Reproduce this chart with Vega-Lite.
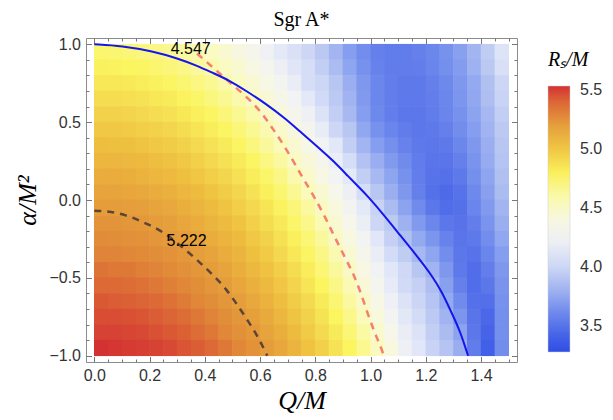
{
"$schema": "https://vega.github.io/schema/vega-lite/v6.json",
"width": 431,
"height": 324,
"autosize": "none",
"padding": {"left": 86, "top": 38, "right": 96, "bottom": 58},
"background": "white",
"title": {"text": "Sgr A*", "font": "Liberation Serif", "fontSize": 20, "fontWeight": "normal", "color": "#000", "offset": 6, "anchor": "middle"},
"config": {"view": {"stroke": "#8c8c8c", "strokeWidth": 1}},
"datasets": {
"grid": [
{"q":0.025,"a":0.95,"r":4.74},{"q":0.075,"a":0.95,"r":4.73},{"q":0.125,"a":0.95,"r":4.72},{"q":0.175,"a":0.95,"r":4.70},{"q":0.225,"a":0.95,"r":4.68},{"q":0.275,"a":0.95,"r":4.65},{"q":0.325,"a":0.95,"r":4.62},{"q":0.375,"a":0.95,"r":4.58},{"q":0.425,"a":0.95,"r":4.53},{"q":0.475,"a":0.95,"r":4.47},{"q":0.525,"a":0.95,"r":4.40},{"q":0.575,"a":0.95,"r":4.33},{"q":0.625,"a":0.95,"r":4.23},{"q":0.675,"a":0.95,"r":4.13},{"q":0.725,"a":0.95,"r":4.06},{"q":0.775,"a":0.95,"r":4.00},{"q":0.825,"a":0.95,"r":3.91},{"q":0.875,"a":0.95,"r":3.82},{"q":0.925,"a":0.95,"r":3.71},{"q":0.975,"a":0.95,"r":3.63},{"q":1.025,"a":0.95,"r":3.57},{"q":1.075,"a":0.95,"r":3.55},{"q":1.125,"a":0.95,"r":3.55},{"q":1.175,"a":0.95,"r":3.57},{"q":1.225,"a":0.95,"r":3.60},{"q":1.275,"a":0.95,"r":3.65},{"q":1.325,"a":0.95,"r":3.72},{"q":1.375,"a":0.95,"r":3.82},{"q":1.425,"a":0.95,"r":3.94},{"q":1.475,"a":0.95,"r":4.08},
{"q":0.025,"a":0.85,"r":4.79},{"q":0.075,"a":0.85,"r":4.78},{"q":0.125,"a":0.85,"r":4.77},{"q":0.175,"a":0.85,"r":4.76},{"q":0.225,"a":0.85,"r":4.74},{"q":0.275,"a":0.85,"r":4.71},{"q":0.325,"a":0.85,"r":4.68},{"q":0.375,"a":0.85,"r":4.63},{"q":0.425,"a":0.85,"r":4.59},{"q":0.475,"a":0.85,"r":4.53},{"q":0.525,"a":0.85,"r":4.47},{"q":0.575,"a":0.85,"r":4.39},{"q":0.625,"a":0.85,"r":4.31},{"q":0.675,"a":0.85,"r":4.21},{"q":0.725,"a":0.85,"r":4.09},{"q":0.775,"a":0.85,"r":4.04},{"q":0.825,"a":0.85,"r":3.95},{"q":0.875,"a":0.85,"r":3.85},{"q":0.925,"a":0.85,"r":3.74},{"q":0.975,"a":0.85,"r":3.65},{"q":1.025,"a":0.85,"r":3.58},{"q":1.075,"a":0.85,"r":3.55},{"q":1.125,"a":0.85,"r":3.55},{"q":1.175,"a":0.85,"r":3.56},{"q":1.225,"a":0.85,"r":3.59},{"q":1.275,"a":0.85,"r":3.64},{"q":1.325,"a":0.85,"r":3.70},{"q":1.375,"a":0.85,"r":3.80},{"q":1.425,"a":0.85,"r":3.91},{"q":1.475,"a":0.85,"r":4.05},
{"q":0.025,"a":0.75,"r":4.84},{"q":0.075,"a":0.75,"r":4.84},{"q":0.125,"a":0.75,"r":4.83},{"q":0.175,"a":0.75,"r":4.81},{"q":0.225,"a":0.75,"r":4.79},{"q":0.275,"a":0.75,"r":4.76},{"q":0.325,"a":0.75,"r":4.73},{"q":0.375,"a":0.75,"r":4.69},{"q":0.425,"a":0.75,"r":4.65},{"q":0.475,"a":0.75,"r":4.59},{"q":0.525,"a":0.75,"r":4.53},{"q":0.575,"a":0.75,"r":4.46},{"q":0.625,"a":0.75,"r":4.38},{"q":0.675,"a":0.75,"r":4.29},{"q":0.725,"a":0.75,"r":4.18},{"q":0.775,"a":0.75,"r":4.04},{"q":0.825,"a":0.75,"r":4.00},{"q":0.875,"a":0.75,"r":3.90},{"q":0.925,"a":0.75,"r":3.79},{"q":0.975,"a":0.75,"r":3.68},{"q":1.025,"a":0.75,"r":3.60},{"q":1.075,"a":0.75,"r":3.56},{"q":1.125,"a":0.75,"r":3.54},{"q":1.175,"a":0.75,"r":3.54},{"q":1.225,"a":0.75,"r":3.57},{"q":1.275,"a":0.75,"r":3.61},{"q":1.325,"a":0.75,"r":3.68},{"q":1.375,"a":0.75,"r":3.76},{"q":1.425,"a":0.75,"r":3.87},{"q":1.475,"a":0.75,"r":4.00},
{"q":0.025,"a":0.65,"r":4.89},{"q":0.075,"a":0.65,"r":4.89},{"q":0.125,"a":0.65,"r":4.88},{"q":0.175,"a":0.65,"r":4.86},{"q":0.225,"a":0.65,"r":4.84},{"q":0.275,"a":0.65,"r":4.82},{"q":0.325,"a":0.65,"r":4.78},{"q":0.375,"a":0.65,"r":4.75},{"q":0.425,"a":0.65,"r":4.70},{"q":0.475,"a":0.65,"r":4.65},{"q":0.525,"a":0.65,"r":4.59},{"q":0.575,"a":0.65,"r":4.53},{"q":0.625,"a":0.65,"r":4.45},{"q":0.675,"a":0.65,"r":4.36},{"q":0.725,"a":0.65,"r":4.26},{"q":0.775,"a":0.65,"r":4.13},{"q":0.825,"a":0.65,"r":4.02},{"q":0.875,"a":0.65,"r":3.92},{"q":0.925,"a":0.65,"r":3.81},{"q":0.975,"a":0.65,"r":3.69},{"q":1.025,"a":0.65,"r":3.60},{"q":1.075,"a":0.65,"r":3.56},{"q":1.125,"a":0.65,"r":3.54},{"q":1.175,"a":0.65,"r":3.54},{"q":1.225,"a":0.65,"r":3.56},{"q":1.275,"a":0.65,"r":3.60},{"q":1.325,"a":0.65,"r":3.67},{"q":1.375,"a":0.65,"r":3.75},{"q":1.425,"a":0.65,"r":3.86},{"q":1.475,"a":0.65,"r":3.98},
{"q":0.025,"a":0.55,"r":4.94},{"q":0.075,"a":0.55,"r":4.94},{"q":0.125,"a":0.55,"r":4.93},{"q":0.175,"a":0.55,"r":4.91},{"q":0.225,"a":0.55,"r":4.89},{"q":0.275,"a":0.55,"r":4.87},{"q":0.325,"a":0.55,"r":4.84},{"q":0.375,"a":0.55,"r":4.80},{"q":0.425,"a":0.55,"r":4.76},{"q":0.475,"a":0.55,"r":4.71},{"q":0.525,"a":0.55,"r":4.65},{"q":0.575,"a":0.55,"r":4.59},{"q":0.625,"a":0.55,"r":4.51},{"q":0.675,"a":0.55,"r":4.43},{"q":0.725,"a":0.55,"r":4.33},{"q":0.775,"a":0.55,"r":4.22},{"q":0.825,"a":0.55,"r":4.07},{"q":0.875,"a":0.55,"r":3.95},{"q":0.925,"a":0.55,"r":3.84},{"q":0.975,"a":0.55,"r":3.71},{"q":1.025,"a":0.55,"r":3.61},{"q":1.075,"a":0.55,"r":3.56},{"q":1.125,"a":0.55,"r":3.53},{"q":1.175,"a":0.55,"r":3.53},{"q":1.225,"a":0.55,"r":3.55},{"q":1.275,"a":0.55,"r":3.59},{"q":1.325,"a":0.55,"r":3.65},{"q":1.375,"a":0.55,"r":3.73},{"q":1.425,"a":0.55,"r":3.83},{"q":1.475,"a":0.55,"r":3.95},
{"q":0.025,"a":0.45,"r":4.99},{"q":0.075,"a":0.45,"r":4.99},{"q":0.125,"a":0.45,"r":4.98},{"q":0.175,"a":0.45,"r":4.96},{"q":0.225,"a":0.45,"r":4.94},{"q":0.275,"a":0.45,"r":4.92},{"q":0.325,"a":0.45,"r":4.89},{"q":0.375,"a":0.45,"r":4.85},{"q":0.425,"a":0.45,"r":4.81},{"q":0.475,"a":0.45,"r":4.76},{"q":0.525,"a":0.45,"r":4.71},{"q":0.575,"a":0.45,"r":4.65},{"q":0.625,"a":0.45,"r":4.58},{"q":0.675,"a":0.45,"r":4.49},{"q":0.725,"a":0.45,"r":4.40},{"q":0.775,"a":0.45,"r":4.30},{"q":0.825,"a":0.45,"r":4.17},{"q":0.875,"a":0.45,"r":4.00},{"q":0.925,"a":0.45,"r":3.90},{"q":0.975,"a":0.45,"r":3.75},{"q":1.025,"a":0.45,"r":3.65},{"q":1.075,"a":0.45,"r":3.59},{"q":1.125,"a":0.45,"r":3.55},{"q":1.175,"a":0.45,"r":3.53},{"q":1.225,"a":0.45,"r":3.54},{"q":1.275,"a":0.45,"r":3.57},{"q":1.325,"a":0.45,"r":3.63},{"q":1.375,"a":0.45,"r":3.71},{"q":1.425,"a":0.45,"r":3.81},{"q":1.475,"a":0.45,"r":3.92},
{"q":0.025,"a":0.35,"r":5.04},{"q":0.075,"a":0.35,"r":5.03},{"q":0.125,"a":0.35,"r":5.03},{"q":0.175,"a":0.35,"r":5.01},{"q":0.225,"a":0.35,"r":4.99},{"q":0.275,"a":0.35,"r":4.97},{"q":0.325,"a":0.35,"r":4.94},{"q":0.375,"a":0.35,"r":4.90},{"q":0.425,"a":0.35,"r":4.86},{"q":0.475,"a":0.35,"r":4.82},{"q":0.525,"a":0.35,"r":4.76},{"q":0.575,"a":0.35,"r":4.70},{"q":0.625,"a":0.35,"r":4.63},{"q":0.675,"a":0.35,"r":4.56},{"q":0.725,"a":0.35,"r":4.47},{"q":0.775,"a":0.35,"r":4.37},{"q":0.825,"a":0.35,"r":4.25},{"q":0.875,"a":0.35,"r":4.11},{"q":0.925,"a":0.35,"r":3.95},{"q":0.975,"a":0.35,"r":3.82},{"q":1.025,"a":0.35,"r":3.71},{"q":1.075,"a":0.35,"r":3.64},{"q":1.125,"a":0.35,"r":3.58},{"q":1.175,"a":0.35,"r":3.54},{"q":1.225,"a":0.35,"r":3.53},{"q":1.275,"a":0.35,"r":3.54},{"q":1.325,"a":0.35,"r":3.60},{"q":1.375,"a":0.35,"r":3.68},{"q":1.425,"a":0.35,"r":3.79},{"q":1.475,"a":0.35,"r":3.90},
{"q":0.025,"a":0.25,"r":5.08},{"q":0.075,"a":0.25,"r":5.08},{"q":0.125,"a":0.25,"r":5.07},{"q":0.175,"a":0.25,"r":5.06},{"q":0.225,"a":0.25,"r":5.04},{"q":0.275,"a":0.25,"r":5.02},{"q":0.325,"a":0.25,"r":4.99},{"q":0.375,"a":0.25,"r":4.95},{"q":0.425,"a":0.25,"r":4.91},{"q":0.475,"a":0.25,"r":4.87},{"q":0.525,"a":0.25,"r":4.82},{"q":0.575,"a":0.25,"r":4.76},{"q":0.625,"a":0.25,"r":4.69},{"q":0.675,"a":0.25,"r":4.62},{"q":0.725,"a":0.25,"r":4.53},{"q":0.775,"a":0.25,"r":4.44},{"q":0.825,"a":0.25,"r":4.33},{"q":0.875,"a":0.25,"r":4.19},{"q":0.925,"a":0.25,"r":4.04},{"q":0.975,"a":0.25,"r":3.88},{"q":1.025,"a":0.25,"r":3.78},{"q":1.075,"a":0.25,"r":3.69},{"q":1.125,"a":0.25,"r":3.62},{"q":1.175,"a":0.25,"r":3.55},{"q":1.225,"a":0.25,"r":3.52},{"q":1.275,"a":0.25,"r":3.52},{"q":1.325,"a":0.25,"r":3.57},{"q":1.375,"a":0.25,"r":3.66},{"q":1.425,"a":0.25,"r":3.77},{"q":1.475,"a":0.25,"r":3.89},
{"q":0.025,"a":0.15,"r":5.13},{"q":0.075,"a":0.15,"r":5.13},{"q":0.125,"a":0.15,"r":5.12},{"q":0.175,"a":0.15,"r":5.10},{"q":0.225,"a":0.15,"r":5.08},{"q":0.275,"a":0.15,"r":5.06},{"q":0.325,"a":0.15,"r":5.03},{"q":0.375,"a":0.15,"r":5.00},{"q":0.425,"a":0.15,"r":4.96},{"q":0.475,"a":0.15,"r":4.92},{"q":0.525,"a":0.15,"r":4.87},{"q":0.575,"a":0.15,"r":4.81},{"q":0.625,"a":0.15,"r":4.75},{"q":0.675,"a":0.15,"r":4.68},{"q":0.725,"a":0.15,"r":4.59},{"q":0.775,"a":0.15,"r":4.50},{"q":0.825,"a":0.15,"r":4.39},{"q":0.875,"a":0.15,"r":4.27},{"q":0.925,"a":0.15,"r":4.13},{"q":0.975,"a":0.15,"r":3.95},{"q":1.025,"a":0.15,"r":3.84},{"q":1.075,"a":0.15,"r":3.74},{"q":1.125,"a":0.15,"r":3.65},{"q":1.175,"a":0.15,"r":3.56},{"q":1.225,"a":0.15,"r":3.51},{"q":1.275,"a":0.15,"r":3.50},{"q":1.325,"a":0.15,"r":3.54},{"q":1.375,"a":0.15,"r":3.64},{"q":1.425,"a":0.15,"r":3.74},{"q":1.475,"a":0.15,"r":3.87},
{"q":0.025,"a":0.05,"r":5.17},{"q":0.075,"a":0.05,"r":5.17},{"q":0.125,"a":0.05,"r":5.16},{"q":0.175,"a":0.05,"r":5.15},{"q":0.225,"a":0.05,"r":5.13},{"q":0.275,"a":0.05,"r":5.11},{"q":0.325,"a":0.05,"r":5.08},{"q":0.375,"a":0.05,"r":5.05},{"q":0.425,"a":0.05,"r":5.01},{"q":0.475,"a":0.05,"r":4.97},{"q":0.525,"a":0.05,"r":4.92},{"q":0.575,"a":0.05,"r":4.86},{"q":0.625,"a":0.05,"r":4.80},{"q":0.675,"a":0.05,"r":4.73},{"q":0.725,"a":0.05,"r":4.65},{"q":0.775,"a":0.05,"r":4.56},{"q":0.825,"a":0.05,"r":4.46},{"q":0.875,"a":0.05,"r":4.35},{"q":0.925,"a":0.05,"r":4.21},{"q":0.975,"a":0.05,"r":4.04},{"q":1.025,"a":0.05,"r":3.90},{"q":1.075,"a":0.05,"r":3.79},{"q":1.125,"a":0.05,"r":3.68},{"q":1.175,"a":0.05,"r":3.57},{"q":1.225,"a":0.05,"r":3.50},{"q":1.275,"a":0.05,"r":3.47},{"q":1.325,"a":0.05,"r":3.51},{"q":1.375,"a":0.05,"r":3.61},{"q":1.425,"a":0.05,"r":3.72},{"q":1.475,"a":0.05,"r":3.85},
{"q":0.025,"a":-0.05,"r":5.21},{"q":0.075,"a":-0.05,"r":5.21},{"q":0.125,"a":-0.05,"r":5.20},{"q":0.175,"a":-0.05,"r":5.19},{"q":0.225,"a":-0.05,"r":5.17},{"q":0.275,"a":-0.05,"r":5.15},{"q":0.325,"a":-0.05,"r":5.12},{"q":0.375,"a":-0.05,"r":5.09},{"q":0.425,"a":-0.05,"r":5.05},{"q":0.475,"a":-0.05,"r":5.01},{"q":0.525,"a":-0.05,"r":4.96},{"q":0.575,"a":-0.05,"r":4.91},{"q":0.625,"a":-0.05,"r":4.85},{"q":0.675,"a":-0.05,"r":4.78},{"q":0.725,"a":-0.05,"r":4.71},{"q":0.775,"a":-0.05,"r":4.62},{"q":0.825,"a":-0.05,"r":4.52},{"q":0.875,"a":-0.05,"r":4.41},{"q":0.925,"a":-0.05,"r":4.28},{"q":0.975,"a":-0.05,"r":4.13},{"q":1.025,"a":-0.05,"r":3.97},{"q":1.075,"a":-0.05,"r":3.85},{"q":1.125,"a":-0.05,"r":3.73},{"q":1.175,"a":-0.05,"r":3.62},{"q":1.225,"a":-0.05,"r":3.53},{"q":1.275,"a":-0.05,"r":3.48},{"q":1.325,"a":-0.05,"r":3.50},{"q":1.375,"a":-0.05,"r":3.59},{"q":1.425,"a":-0.05,"r":3.69},{"q":1.475,"a":-0.05,"r":3.82},
{"q":0.025,"a":-0.15,"r":5.25},{"q":0.075,"a":-0.15,"r":5.25},{"q":0.125,"a":-0.15,"r":5.24},{"q":0.175,"a":-0.15,"r":5.23},{"q":0.225,"a":-0.15,"r":5.21},{"q":0.275,"a":-0.15,"r":5.19},{"q":0.325,"a":-0.15,"r":5.16},{"q":0.375,"a":-0.15,"r":5.13},{"q":0.425,"a":-0.15,"r":5.09},{"q":0.475,"a":-0.15,"r":5.05},{"q":0.525,"a":-0.15,"r":5.01},{"q":0.575,"a":-0.15,"r":4.95},{"q":0.625,"a":-0.15,"r":4.89},{"q":0.675,"a":-0.15,"r":4.83},{"q":0.725,"a":-0.15,"r":4.75},{"q":0.775,"a":-0.15,"r":4.67},{"q":0.825,"a":-0.15,"r":4.57},{"q":0.875,"a":-0.15,"r":4.47},{"q":0.925,"a":-0.15,"r":4.35},{"q":0.975,"a":-0.15,"r":4.20},{"q":1.025,"a":-0.15,"r":4.00},{"q":1.075,"a":-0.15,"r":3.92},{"q":1.125,"a":-0.15,"r":3.80},{"q":1.175,"a":-0.15,"r":3.69},{"q":1.225,"a":-0.15,"r":3.60},{"q":1.275,"a":-0.15,"r":3.53},{"q":1.325,"a":-0.15,"r":3.51},{"q":1.375,"a":-0.15,"r":3.56},{"q":1.425,"a":-0.15,"r":3.66},{"q":1.475,"a":-0.15,"r":3.79},
{"q":0.025,"a":-0.25,"r":5.29},{"q":0.075,"a":-0.25,"r":5.28},{"q":0.125,"a":-0.25,"r":5.27},{"q":0.175,"a":-0.25,"r":5.26},{"q":0.225,"a":-0.25,"r":5.24},{"q":0.275,"a":-0.25,"r":5.22},{"q":0.325,"a":-0.25,"r":5.20},{"q":0.375,"a":-0.25,"r":5.17},{"q":0.425,"a":-0.25,"r":5.13},{"q":0.475,"a":-0.25,"r":5.09},{"q":0.525,"a":-0.25,"r":5.05},{"q":0.575,"a":-0.25,"r":4.99},{"q":0.625,"a":-0.25,"r":4.94},{"q":0.675,"a":-0.25,"r":4.87},{"q":0.725,"a":-0.25,"r":4.80},{"q":0.775,"a":-0.25,"r":4.72},{"q":0.825,"a":-0.25,"r":4.63},{"q":0.875,"a":-0.25,"r":4.52},{"q":0.925,"a":-0.25,"r":4.41},{"q":0.975,"a":-0.25,"r":4.27},{"q":1.025,"a":-0.25,"r":4.10},{"q":1.075,"a":-0.25,"r":3.96},{"q":1.125,"a":-0.25,"r":3.87},{"q":1.175,"a":-0.25,"r":3.76},{"q":1.225,"a":-0.25,"r":3.67},{"q":1.275,"a":-0.25,"r":3.58},{"q":1.325,"a":-0.25,"r":3.52},{"q":1.375,"a":-0.25,"r":3.54},{"q":1.425,"a":-0.25,"r":3.63},{"q":1.475,"a":-0.25,"r":3.75},
{"q":0.025,"a":-0.35,"r":5.32},{"q":0.075,"a":-0.35,"r":5.32},{"q":0.125,"a":-0.35,"r":5.31},{"q":0.175,"a":-0.35,"r":5.30},{"q":0.225,"a":-0.35,"r":5.28},{"q":0.275,"a":-0.35,"r":5.26},{"q":0.325,"a":-0.35,"r":5.23},{"q":0.375,"a":-0.35,"r":5.20},{"q":0.425,"a":-0.35,"r":5.17},{"q":0.475,"a":-0.35,"r":5.13},{"q":0.525,"a":-0.35,"r":5.09},{"q":0.575,"a":-0.35,"r":5.03},{"q":0.625,"a":-0.35,"r":4.98},{"q":0.675,"a":-0.35,"r":4.91},{"q":0.725,"a":-0.35,"r":4.84},{"q":0.775,"a":-0.35,"r":4.76},{"q":0.825,"a":-0.35,"r":4.68},{"q":0.875,"a":-0.35,"r":4.58},{"q":0.925,"a":-0.35,"r":4.46},{"q":0.975,"a":-0.35,"r":4.33},{"q":1.025,"a":-0.35,"r":4.18},{"q":1.075,"a":-0.35,"r":4.03},{"q":1.125,"a":-0.35,"r":3.94},{"q":1.175,"a":-0.35,"r":3.83},{"q":1.225,"a":-0.35,"r":3.74},{"q":1.275,"a":-0.35,"r":3.63},{"q":1.325,"a":-0.35,"r":3.53},{"q":1.375,"a":-0.35,"r":3.51},{"q":1.425,"a":-0.35,"r":3.59},{"q":1.475,"a":-0.35,"r":3.71},
{"q":0.025,"a":-0.45,"r":5.36},{"q":0.075,"a":-0.45,"r":5.35},{"q":0.125,"a":-0.45,"r":5.35},{"q":0.175,"a":-0.45,"r":5.33},{"q":0.225,"a":-0.45,"r":5.32},{"q":0.275,"a":-0.45,"r":5.30},{"q":0.325,"a":-0.45,"r":5.27},{"q":0.375,"a":-0.45,"r":5.24},{"q":0.425,"a":-0.45,"r":5.21},{"q":0.475,"a":-0.45,"r":5.17},{"q":0.525,"a":-0.45,"r":5.12},{"q":0.575,"a":-0.45,"r":5.07},{"q":0.625,"a":-0.45,"r":5.02},{"q":0.675,"a":-0.45,"r":4.96},{"q":0.725,"a":-0.45,"r":4.89},{"q":0.775,"a":-0.45,"r":4.81},{"q":0.825,"a":-0.45,"r":4.72},{"q":0.875,"a":-0.45,"r":4.63},{"q":0.925,"a":-0.45,"r":4.52},{"q":0.975,"a":-0.45,"r":4.39},{"q":1.025,"a":-0.45,"r":4.25},{"q":1.075,"a":-0.45,"r":4.10},{"q":1.125,"a":-0.45,"r":4.01},{"q":1.175,"a":-0.45,"r":3.90},{"q":1.225,"a":-0.45,"r":3.81},{"q":1.275,"a":-0.45,"r":3.68},{"q":1.325,"a":-0.45,"r":3.54},{"q":1.375,"a":-0.45,"r":3.48},{"q":1.425,"a":-0.45,"r":3.56},{"q":1.475,"a":-0.45,"r":3.68},
{"q":0.025,"a":-0.55,"r":5.39},{"q":0.075,"a":-0.55,"r":5.39},{"q":0.125,"a":-0.55,"r":5.38},{"q":0.175,"a":-0.55,"r":5.37},{"q":0.225,"a":-0.55,"r":5.35},{"q":0.275,"a":-0.55,"r":5.33},{"q":0.325,"a":-0.55,"r":5.31},{"q":0.375,"a":-0.55,"r":5.28},{"q":0.425,"a":-0.55,"r":5.24},{"q":0.475,"a":-0.55,"r":5.21},{"q":0.525,"a":-0.55,"r":5.16},{"q":0.575,"a":-0.55,"r":5.11},{"q":0.625,"a":-0.55,"r":5.06},{"q":0.675,"a":-0.55,"r":5.00},{"q":0.725,"a":-0.55,"r":4.93},{"q":0.775,"a":-0.55,"r":4.85},{"q":0.825,"a":-0.55,"r":4.77},{"q":0.875,"a":-0.55,"r":4.68},{"q":0.925,"a":-0.55,"r":4.57},{"q":0.975,"a":-0.55,"r":4.45},{"q":1.025,"a":-0.55,"r":4.31},{"q":1.075,"a":-0.55,"r":4.15},{"q":1.125,"a":-0.55,"r":4.02},{"q":1.175,"a":-0.55,"r":3.96},{"q":1.225,"a":-0.55,"r":3.86},{"q":1.275,"a":-0.55,"r":3.72},{"q":1.325,"a":-0.55,"r":3.57},{"q":1.375,"a":-0.55,"r":3.48},{"q":1.425,"a":-0.55,"r":3.53},{"q":1.475,"a":-0.55,"r":3.66},
{"q":0.025,"a":-0.65,"r":5.43},{"q":0.075,"a":-0.65,"r":5.42},{"q":0.125,"a":-0.65,"r":5.41},{"q":0.175,"a":-0.65,"r":5.40},{"q":0.225,"a":-0.65,"r":5.39},{"q":0.275,"a":-0.65,"r":5.37},{"q":0.325,"a":-0.65,"r":5.34},{"q":0.375,"a":-0.65,"r":5.31},{"q":0.425,"a":-0.65,"r":5.28},{"q":0.475,"a":-0.65,"r":5.24},{"q":0.525,"a":-0.65,"r":5.20},{"q":0.575,"a":-0.65,"r":5.15},{"q":0.625,"a":-0.65,"r":5.10},{"q":0.675,"a":-0.65,"r":5.04},{"q":0.725,"a":-0.65,"r":4.97},{"q":0.775,"a":-0.65,"r":4.90},{"q":0.825,"a":-0.65,"r":4.82},{"q":0.875,"a":-0.65,"r":4.73},{"q":0.925,"a":-0.65,"r":4.62},{"q":0.975,"a":-0.65,"r":4.51},{"q":1.025,"a":-0.65,"r":4.37},{"q":1.075,"a":-0.65,"r":4.22},{"q":1.125,"a":-0.65,"r":4.07},{"q":1.175,"a":-0.65,"r":3.99},{"q":1.225,"a":-0.65,"r":3.89},{"q":1.275,"a":-0.65,"r":3.76},{"q":1.325,"a":-0.65,"r":3.62},{"q":1.375,"a":-0.65,"r":3.50},{"q":1.425,"a":-0.65,"r":3.49},{"q":1.475,"a":-0.65,"r":3.65},
{"q":0.025,"a":-0.75,"r":5.46},{"q":0.075,"a":-0.75,"r":5.46},{"q":0.125,"a":-0.75,"r":5.45},{"q":0.175,"a":-0.75,"r":5.44},{"q":0.225,"a":-0.75,"r":5.42},{"q":0.275,"a":-0.75,"r":5.40},{"q":0.325,"a":-0.75,"r":5.38},{"q":0.375,"a":-0.75,"r":5.35},{"q":0.425,"a":-0.75,"r":5.32},{"q":0.475,"a":-0.75,"r":5.28},{"q":0.525,"a":-0.75,"r":5.24},{"q":0.575,"a":-0.75,"r":5.19},{"q":0.625,"a":-0.75,"r":5.14},{"q":0.675,"a":-0.75,"r":5.08},{"q":0.725,"a":-0.75,"r":5.01},{"q":0.775,"a":-0.75,"r":4.94},{"q":0.825,"a":-0.75,"r":4.86},{"q":0.875,"a":-0.75,"r":4.77},{"q":0.925,"a":-0.75,"r":4.67},{"q":0.975,"a":-0.75,"r":4.56},{"q":1.025,"a":-0.75,"r":4.43},{"q":1.075,"a":-0.75,"r":4.28},{"q":1.125,"a":-0.75,"r":4.12},{"q":1.175,"a":-0.75,"r":4.03},{"q":1.225,"a":-0.75,"r":3.92},{"q":1.275,"a":-0.75,"r":3.81},{"q":1.325,"a":-0.75,"r":3.67},{"q":1.375,"a":-0.75,"r":3.52},{"q":1.425,"a":-0.75,"r":3.46},{"q":1.475,"a":-0.75,"r":3.64},
{"q":0.025,"a":-0.85,"r":5.49},{"q":0.075,"a":-0.85,"r":5.49},{"q":0.125,"a":-0.85,"r":5.48},{"q":0.175,"a":-0.85,"r":5.47},{"q":0.225,"a":-0.85,"r":5.45},{"q":0.275,"a":-0.85,"r":5.43},{"q":0.325,"a":-0.85,"r":5.41},{"q":0.375,"a":-0.85,"r":5.38},{"q":0.425,"a":-0.85,"r":5.35},{"q":0.475,"a":-0.85,"r":5.31},{"q":0.525,"a":-0.85,"r":5.27},{"q":0.575,"a":-0.85,"r":5.23},{"q":0.625,"a":-0.85,"r":5.17},{"q":0.675,"a":-0.85,"r":5.12},{"q":0.725,"a":-0.85,"r":5.05},{"q":0.775,"a":-0.85,"r":4.98},{"q":0.825,"a":-0.85,"r":4.90},{"q":0.875,"a":-0.85,"r":4.82},{"q":0.925,"a":-0.85,"r":4.72},{"q":0.975,"a":-0.85,"r":4.61},{"q":1.025,"a":-0.85,"r":4.49},{"q":1.075,"a":-0.85,"r":4.35},{"q":1.125,"a":-0.85,"r":4.18},{"q":1.175,"a":-0.85,"r":4.07},{"q":1.225,"a":-0.85,"r":3.95},{"q":1.275,"a":-0.85,"r":3.85},{"q":1.325,"a":-0.85,"r":3.73},{"q":1.375,"a":-0.85,"r":3.53},{"q":1.425,"a":-0.85,"r":3.43},{"q":1.475,"a":-0.85,"r":3.64},
{"q":0.025,"a":-0.95,"r":5.53},{"q":0.075,"a":-0.95,"r":5.52},{"q":0.125,"a":-0.95,"r":5.51},{"q":0.175,"a":-0.95,"r":5.50},{"q":0.225,"a":-0.95,"r":5.49},{"q":0.275,"a":-0.95,"r":5.47},{"q":0.325,"a":-0.95,"r":5.44},{"q":0.375,"a":-0.95,"r":5.42},{"q":0.425,"a":-0.95,"r":5.39},{"q":0.475,"a":-0.95,"r":5.35},{"q":0.525,"a":-0.95,"r":5.31},{"q":0.575,"a":-0.95,"r":5.26},{"q":0.625,"a":-0.95,"r":5.21},{"q":0.675,"a":-0.95,"r":5.16},{"q":0.725,"a":-0.95,"r":5.09},{"q":0.775,"a":-0.95,"r":5.02},{"q":0.825,"a":-0.95,"r":4.95},{"q":0.875,"a":-0.95,"r":4.86},{"q":0.925,"a":-0.95,"r":4.77},{"q":0.975,"a":-0.95,"r":4.66},{"q":1.025,"a":-0.95,"r":4.54},{"q":1.075,"a":-0.95,"r":4.41},{"q":1.125,"a":-0.95,"r":4.22},{"q":1.175,"a":-0.95,"r":4.10},{"q":1.225,"a":-0.95,"r":3.98},{"q":1.275,"a":-0.95,"r":3.89},{"q":1.325,"a":-0.95,"r":3.78},{"q":1.375,"a":-0.95,"r":3.55},{"q":1.425,"a":-0.95,"r":3.40},{"q":1.475,"a":-0.95,"r":3.63}
],
"c5222": [
{"q":0,"a":-0.069},{"q":0.06,"a":-0.077},{"q":0.116,"a":-0.1},{"q":0.18,"a":-0.145},{"q":0.248,"a":-0.208},{"q":0.31,"a":-0.29},{"q":0.368,"a":-0.379},{"q":0.425,"a":-0.475},{"q":0.476,"a":-0.572},{"q":0.52,"a":-0.68},{"q":0.56,"a":-0.787},{"q":0.595,"a":-0.89},{"q":0.626,"a":-1.0}
],
"c4547": [
{"q":0.372,"a":0.94},{"q":0.43,"a":0.85},{"q":0.488,"a":0.758},{"q":0.545,"a":0.67},{"q":0.597,"a":0.576},{"q":0.645,"a":0.46},{"q":0.693,"a":0.33},{"q":0.753,"a":0.148},{"q":0.8,"a":0.006},{"q":0.835,"a":-0.11},{"q":0.868,"a":-0.23},{"q":0.905,"a":-0.36},{"q":0.94,"a":-0.487},{"q":0.965,"a":-0.6},{"q":0.988,"a":-0.72},{"q":1.015,"a":-0.85},{"q":1.042,"a":-0.969},{"q":1.048,"a":-1.0}
],
"horizon": [
{"q":0,"a":1.0},{"q":0.1,"a":0.99},{"q":0.212,"a":0.955},{"q":0.3,"a":0.91},{"q":0.368,"a":0.865},{"q":0.43,"a":0.815},{"q":0.488,"a":0.769},{"q":0.55,"a":0.7},{"q":0.62,"a":0.619},{"q":0.69,"a":0.525},{"q":0.753,"a":0.426},{"q":0.81,"a":0.34},{"q":0.866,"a":0.25},{"q":0.92,"a":0.15},{"q":0.96,"a":0.078},{"q":0.988,"a":0.028},{"q":1.05,"a":-0.1},{"q":1.108,"a":-0.229},{"q":1.168,"a":-0.36},{"q":1.222,"a":-0.485},{"q":1.258,"a":-0.59},{"q":1.287,"a":-0.7},{"q":1.308,"a":-0.78},{"q":1.325,"a":-0.851},{"q":1.34,"a":-0.93},{"q":1.353,"a":-1.0}
],
"labels": [
{"q":0.349,"a":0.971,"t":"4.547"},{"q":0.334,"a":-0.263,"t":"5.222"}
]
},
"layer": [
{
"data": {"name": "grid"},
"mark": {"type": "rect", "width": 14.4, "height": 16.2},
"encoding": {
"x": {"field": "q", "type": "quantitative", "scale": {"domain": [-0.03, 1.53], "nice": false, "zero": false},
 "axis": {"orient": "bottom", "values": [0, 0.2, 0.4, 0.6, 0.8, 1, 1.2, 1.4], "format": ".1f", "tickSize": -5.5, "tickColor": "#777", "labelPadding": 11, "labelFont": "Liberation Sans", "labelFontSize": 16, "labelColor": "#333", "domain": false, "grid": false, "title": "Q/M", "titleFont": "Liberation Serif", "titleFontStyle": "italic", "titleFontWeight": "normal", "titleFontSize": 26, "titleColor": "#000", "titlePadding": 4}},
"y": {"field": "a", "type": "quantitative", "scale": {"domain": [-1.04, 1.04], "nice": false, "zero": false},
 "axis": {"orient": "left", "values": [-1, -0.5, 0, 0.5, 1], "format": ".1f", "tickSize": -5.5, "tickColor": "#777", "labelPadding": 11, "labelFont": "Liberation Sans", "labelFontSize": 16, "labelColor": "#333", "domain": false, "grid": false, "title": "α/M²", "titleFont": "Liberation Serif", "titleFontStyle": "italic", "titleFontWeight": "normal", "titleFontSize": 26, "titleColor": "#000", "titlePadding": 8}},
"color": {"field": "r", "type": "quantitative",
 "scale": {"type": "linear", "domain": [3.28, 3.45, 3.67, 3.9, 4.09, 4.26, 4.38, 4.55, 4.77, 5.03, 5.31, 5.53], "range": ["#2f4fe6", "#4a66e8", "#7c96ee", "#b8c6f2", "#e0e6f8", "#f2f3f4", "#f7f7e6", "#fafabe", "#fbf560", "#eec040", "#e08838", "#d43232"], "interpolate": "rgb"},
 "legend": {"orient": "none", "legendX": 462, "legendY": 12, "direction": "vertical", "gradientLength": 266, "gradientThickness": 22, "title": "Rₛ/M", "titleFont": "Liberation Serif", "titleFontStyle": "italic", "titleFontWeight": "normal", "titleFontSize": 20, "titleColor": "#000", "titlePadding": 16, "labelFont": "Liberation Sans", "labelFontSize": 16, "labelColor": "#333", "labelOffset": 10, "values": [3.5, 4, 4.5, 5, 5.5], "format": ".1f", "gradientStrokeColor": "#cccccc", "gradientStrokeWidth": 0.5, "padding": 0, "offset": 0}}
}
},
{
"data": {"name": "c5222"},
"mark": {"type": "line", "color": "#5b4636", "strokeWidth": 2.5, "strokeDash": [7, 6], "interpolate": "monotone"},
"encoding": {
"x": {"field": "q", "type": "quantitative", "axis": {"orient": "bottom", "values": [0.05,0.1,0.15,0.25,0.3,0.35,0.45,0.5,0.55,0.65,0.7,0.75,0.85,0.9,0.95,1.05,1.1,1.15,1.25,1.3,1.35,1.45,1.5], "labels": false, "tickSize": -3, "tickColor": "#777", "domain": false, "grid": false, "title": null}},
"y": {"field": "a", "type": "quantitative", "axis": {"orient": "left", "values": [-0.9,-0.8,-0.7,-0.6,-0.4,-0.3,-0.2,-0.1,0.1,0.2,0.3,0.4,0.6,0.7,0.8,0.9], "labels": false, "tickSize": -3, "tickColor": "#777", "domain": false, "grid": false, "title": null}}
}
},
{
"data": {"name": "c4547"},
"mark": {"type": "line", "color": "#f67f6c", "strokeWidth": 2.5, "strokeDash": [7, 6], "interpolate": "monotone"},
"encoding": {
"x": {"field": "q", "type": "quantitative", "axis": {"orient": "top", "values": [0, 0.2, 0.4, 0.6, 0.8, 1, 1.2, 1.4], "labels": false, "tickSize": -5.5, "tickColor": "#777", "domain": false, "grid": false, "title": null}},
"y": {"field": "a", "type": "quantitative", "axis": {"orient": "right", "values": [-1, -0.5, 0, 0.5, 1], "labels": false, "tickSize": -5.5, "tickColor": "#777", "domain": false, "grid": false, "title": null}}
}
},
{
"data": {"name": "horizon"},
"mark": {"type": "line", "color": "#1515ee", "strokeWidth": 2, "interpolate": "basis"},
"encoding": {
"x": {"field": "q", "type": "quantitative", "axis": {"orient": "top", "values": [0.05,0.1,0.15,0.25,0.3,0.35,0.45,0.5,0.55,0.65,0.7,0.75,0.85,0.9,0.95,1.05,1.1,1.15,1.25,1.3,1.35,1.45,1.5], "labels": false, "tickSize": -3, "tickColor": "#777", "domain": false, "grid": false, "title": null}},
"y": {"field": "a", "type": "quantitative", "axis": {"orient": "right", "values": [-0.9,-0.8,-0.7,-0.6,-0.4,-0.3,-0.2,-0.1,0.1,0.2,0.3,0.4,0.6,0.7,0.8,0.9], "labels": false, "tickSize": -3, "tickColor": "#777", "domain": false, "grid": false, "title": null}}
}
},
{
"data": {"name": "labels"},
"mark": {"type": "text", "font": "Liberation Sans", "fontSize": 16, "color": "#000", "align": "center", "baseline": "middle"},
"encoding": {
"x": {"field": "q", "type": "quantitative", "axis": null},
"y": {"field": "a", "type": "quantitative", "axis": null},
"text": {"field": "t", "type": "nominal"}
}
}
],
"resolve": {"axis": {"x": "independent", "y": "independent"}}
}
